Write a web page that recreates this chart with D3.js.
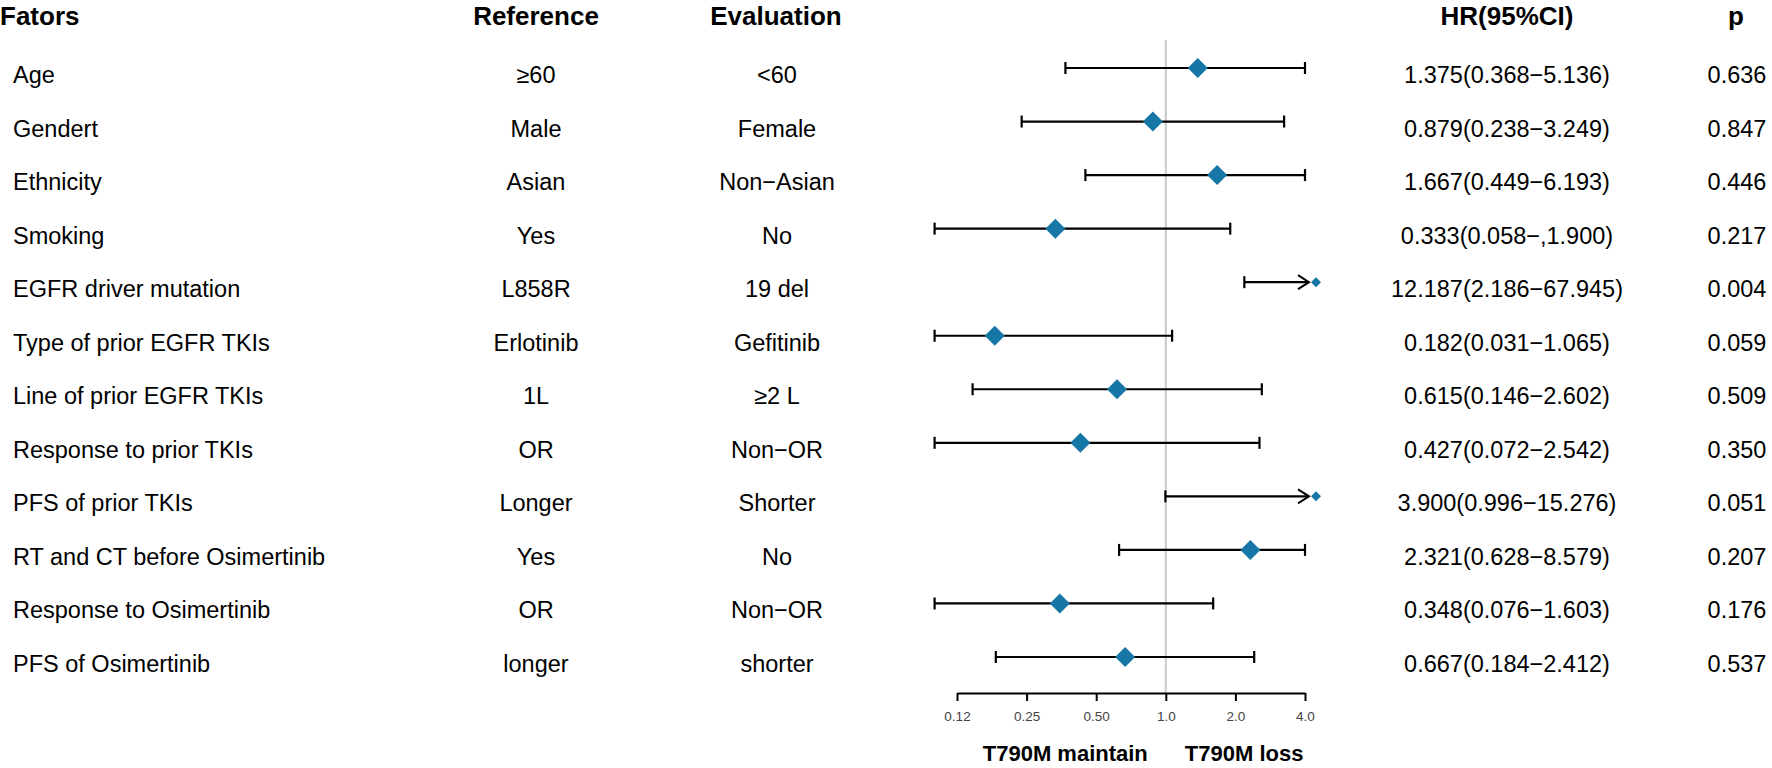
<!DOCTYPE html>
<html>
<head>
<meta charset="utf-8">
<script src="https://cdn.jsdelivr.net/npm/d3@7"></script>
<style>
  body { margin: 0; background: #fff; }
  text { font-family: "Liberation Sans", Arial, sans-serif; }
</style>
</head>
<body>
<div class="forest-chart"></div>
<script>
const factors = ["Age", "Gendert", "Ethnicity", "Smoking", "EGFR driver mutation",
    "Type of prior EGFR TKIs", "Line of prior EGFR TKIs", "Response to prior TKIs",
    "PFS of prior TKIs", "RT and CT before Osimertinib", "Response to Osimertinib",
    "PFS of Osimertinib"];
const reference = ["≥60", "Male", "Asian", "Yes", "L858R", "Erlotinib", "1L", "OR",
    "Longer", "Yes", "OR", "longer"];
const evaluation = ["<60", "Female", "Non−Asian", "No", "19 del", "Gefitinib", "≥2 L",
    "Non−OR", "Shorter", "No", "Non−OR", "shorter"];
const hr = [1.375, 0.879, 1.667, 0.333, 12.187, 0.182, 0.615, 0.427, 3.900, 2.321, 0.348, 0.667];
const lower = [0.368, 0.238, 0.449, 0.058, 2.186, 0.031, 0.146, 0.072, 0.996, 0.628, 0.076, 0.184];
const upper = [5.136, 3.249, 6.193, 1.900, 67.945, 1.065, 2.602, 2.542, 15.276, 8.579, 1.603, 2.412];
const hrLabels = ["1.375(0.368−5.136)", "0.879(0.238−3.249)", "1.667(0.449−6.193)",
    "0.333(0.058−,1.900)", "12.187(2.186−67.945)", "0.182(0.031−1.065)",
    "0.615(0.146−2.602)", "0.427(0.072−2.542)", "3.900(0.996−15.276)",
    "2.321(0.628−8.579)", "0.348(0.076−1.603)", "0.667(0.184−2.412)"];
const pValues = ["0.636", "0.847", "0.446", "0.217", "0.004", "0.059", "0.509", "0.350",
    "0.051", "0.207", "0.176", "0.537"];
const tickValues = [0.125, 0.25, 0.5, 1, 2, 4];
const tickLabels = ["0.12", "0.25", "0.50", "1.0", "2.0", "4.0"];

const width = 1772;
const height = 768;
const lowClip = 0.1;
const highClip = 4;
const arrowLimit = 10;
const blue = "#1677a6";

const svg = d3.select(".forest-chart")
    .append("svg")
    .attr("width", width)
    .attr("height", height);

const rows = factors.map(function(f, i) {
    return { factor: f, ref: reference[i], ev: evaluation[i], hr: hr[i],
        lo: lower[i], hi: upper[i], label: hrLabels[i], p: pValues[i] };
});

const x = d3.scaleLog().base(2).domain([0.125, 4]).range([957, 1305]);
const y = d3.scalePoint().domain(d3.range(rows.length)).range([68, 657]);
const axisY = 693;

// headers
const headers = [
    { t: "Fators", x: 0, a: "start" },
    { t: "Reference", x: 536, a: "middle" },
    { t: "Evaluation", x: 776, a: "middle" },
    { t: "HR(95%CI)", x: 1507, a: "middle" },
    { t: "p", x: 1736, a: "middle" }
];
svg.selectAll(".header")
    .data(headers)
    .enter()
    .append("text")
    .attr("class", "header")
    .attr("x", d => d.x)
    .attr("y", 25)
    .attr("text-anchor", d => d.a)
    .attr("font-size", 26)
    .attr("font-weight", "bold")
    .text(d => d.t);

// text columns
const cols = [
    { key: "factor", x: 13, a: "start" },
    { key: "ref", x: 536, a: "middle" },
    { key: "ev", x: 777, a: "middle" },
    { key: "label", x: 1507, a: "middle" },
    { key: "p", x: 1737, a: "middle" }
];
cols.forEach(function(c) {
    svg.selectAll(".col-" + c.key)
        .data(rows)
        .enter()
        .append("text")
        .attr("class", "col-" + c.key)
        .attr("x", c.x)
        .attr("y", (d, i) => y(i) + 15)
        .attr("text-anchor", c.a)
        .attr("font-size", 23.5)
        .text(d => d[c.key]);
});

// reference line at HR = 1
svg.append("line")
    .attr("x1", x(1)).attr("x2", x(1))
    .attr("y1", 40).attr("y2", axisY)
    .attr("stroke", "#c8c8c8")
    .attr("stroke-width", 2);

// axis
const axis = svg.append("g")
    .attr("transform", "translate(0," + axisY + ")")
    .call(d3.axisBottom(x)
        .tickValues(tickValues)
        .tickFormat((d, i) => tickLabels[i])
        .tickSizeInner(8)
        .tickSizeOuter(0)
        .tickPadding(10));
axis.select(".domain").attr("stroke", "#000").attr("stroke-width", 2);
axis.selectAll(".tick line").attr("stroke", "#000").attr("stroke-width", 2);
axis.selectAll(".tick text")
    .attr("font-size", 13.5)
    .attr("fill", "#444")
    .attr("font-family", "Liberation Sans, Arial, sans-serif");

svg.append("text")
    .attr("x", x(1) - 18)
    .attr("y", 761)
    .attr("text-anchor", "end")
    .attr("font-size", 22)
    .attr("font-weight", "bold")
    .text("T790M maintain");
svg.append("text")
    .attr("x", x(1) + 19)
    .attr("y", 761)
    .attr("text-anchor", "start")
    .attr("font-size", 22)
    .attr("font-weight", "bold")
    .text("T790M loss");

// confidence intervals
const bars = svg.selectAll(".ci")
    .data(rows)
    .enter()
    .append("g")
    .attr("class", "ci")
    .attr("transform", (d, i) => "translate(0," + y(i) + ")");

bars.each(function(d) {
    const g = d3.select(this);
    const x0 = x(Math.max(d.lo, lowClip));
    const arrow = d.hi > arrowLimit;
    const x1 = arrow ? x(highClip) + 4 : x(Math.min(d.hi, highClip));

    g.append("line")
        .attr("x1", x0).attr("x2", x1)
        .attr("y1", 0).attr("y2", 0)
        .attr("stroke", "#000")
        .attr("stroke-width", 2.2);
    g.append("line")
        .attr("x1", x0).attr("x2", x0)
        .attr("y1", -6).attr("y2", 6)
        .attr("stroke", "#000")
        .attr("stroke-width", 2.2);
    if (arrow) {
        g.append("path")
            .attr("d", "M" + (x1 - 11) + ",-7 L" + x1 + ",0 L" + (x1 - 11) + ",7")
            .attr("fill", "none")
            .attr("stroke", "#000")
            .attr("stroke-width", 2);
        g.append("path")
            .attr("d", d3.symbol().type(d3.symbolSquare).size(50))
            .attr("transform", "translate(" + (x1 + 7) + ",0) rotate(45)")
            .attr("fill", blue);
    } else {
        g.append("line")
            .attr("x1", x1).attr("x2", x1)
            .attr("y1", -6).attr("y2", 6)
            .attr("stroke", "#000")
            .attr("stroke-width", 2.2);
        g.append("path")
            .attr("d", d3.symbol().type(d3.symbolSquare).size(200))
            .attr("transform", "translate(" + x(d.hr) + ",0) rotate(45)")
            .attr("fill", blue);
    }
});
</script>
</body>
</html>
